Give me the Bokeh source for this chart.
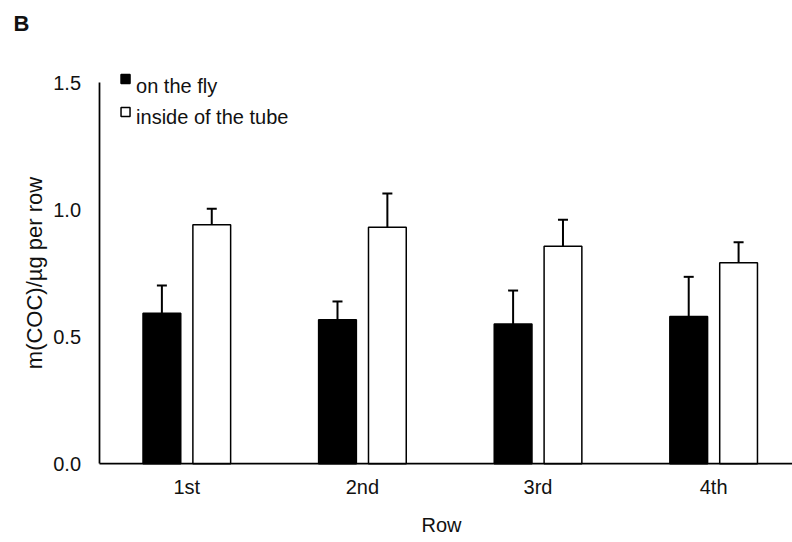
from bokeh.plotting import figure
from bokeh.models import Range1d, FixedTicker, Label, PrintfTickFormatter, LinearAxis
from bokeh.embed import file_html
from bokeh.resources import INLINE

# ---- data ----
rows = ["1st", "2nd", "3rd", "4th"]
series_names = ["on the fly", "inside of the tube"]
fly_mean = [0.593, 0.567, 0.550, 0.580]
fly_err = [0.109, 0.072, 0.132, 0.156]
tube_mean = [0.941, 0.931, 0.856, 0.791]
tube_err = [0.063, 0.133, 0.105, 0.081]
y_ticks = [0.0, 0.5, 1.0, 1.5]

FONT = "Liberation Sans"
TXT = "#111111"

pos = [i + 1 for i in range(len(rows))]
off = 0.142
bw = 0.215
x_fly = [x - off for x in pos]
x_tube = [x + off for x in pos]

X0, X1 = -0.061, 4.449
Y0, Y1 = -0.310, 1.824

p = figure(width=792, height=542, output_backend="svg", toolbar_location=None,
           x_range=Range1d(X0, X1), y_range=Range1d(Y0, Y1),
           x_axis_location=None, y_axis_location=None,
           min_border_left=0, min_border_right=0, min_border_top=0, min_border_bottom=0)
p.outline_line_color = None
p.grid.visible = False
p.background_fill_color = "white"

# bars
p.vbar(x=x_fly, top=fly_mean, width=bw, fill_color="black", line_color="black", line_width=1.5)
p.vbar(x=x_tube, top=tube_mean, width=bw, fill_color="white", line_color="black", line_width=1.5)

# error bars (upper only)
for xs, m, e in ((x_fly, fly_mean, fly_err), (x_tube, tube_mean, tube_err)):
    tops = [a + b for a, b in zip(m, e)]
    p.segment(x0=xs, y0=m, x1=xs, y1=tops, line_color="black", line_width=2)
    p.scatter(x=xs, y=tops, marker="dash", size=10, line_color="black", line_width=2)

# axes (fixed inside the frame)
xaxis = LinearAxis(fixed_location=0, bounds=(0.5, X1),
                   ticker=FixedTicker(ticks=pos),
                   major_label_overrides={k: v for k, v in zip(pos, rows)})
yaxis = LinearAxis(fixed_location=0.5, bounds=(0, 1.5),
                   ticker=FixedTicker(ticks=y_ticks),
                   formatter=PrintfTickFormatter(format="%.1f"),
                   axis_label="m(COC)/µg per row")
for ax in (xaxis, yaxis):
    ax.major_tick_line_color = None
    ax.minor_tick_line_color = None
    ax.axis_line_color = "black"
    ax.axis_line_width = 1.75
    ax.major_label_text_font = FONT
    ax.major_label_text_font_size = "20px"
    ax.major_label_text_color = TXT
    ax.axis_label_text_font = FONT
    ax.axis_label_text_font_style = "normal"
    ax.axis_label_text_color = TXT
xaxis.major_label_standoff = 6
yaxis.major_label_standoff = 12
yaxis.axis_label_text_font_size = "22px"
yaxis.axis_label_standoff = 4
p.add_layout(xaxis, "below")
p.add_layout(yaxis, "left")

# x-axis title
p.add_layout(Label(x=2.45, y=-0.243, text="Row", text_font=FONT, text_font_size="20px",
                   text_color=TXT, text_baseline="middle", text_align="center"))

# legend (manual, Excel-like)
leg_x = 0.651
leg_y = [1.515, 1.385]
p.rect(x=[leg_x], y=[leg_y[0]], width=9, height=9, width_units="screen", height_units="screen",
       fill_color="black", line_color="black", line_width=1.5)
p.rect(x=[leg_x], y=[leg_y[1]], width=9, height=9, width_units="screen", height_units="screen",
       fill_color="white", line_color="black", line_width=1.5)
for name, yb in zip(series_names, [1.489, 1.365]):
    p.add_layout(Label(x=0.711, y=yb, text=name, text_font=FONT, text_font_size="20px",
                       text_color=TXT, text_baseline="alphabetic", text_align="left"))

# panel letter
p.add_layout(Label(x=0.013, y=1.781, text="B", text_font=FONT, text_font_size="22px",
                   text_font_style="bold", text_color=TXT, text_baseline="top", text_align="left"))

open("out.html", "w").write(file_html(p, INLINE))
